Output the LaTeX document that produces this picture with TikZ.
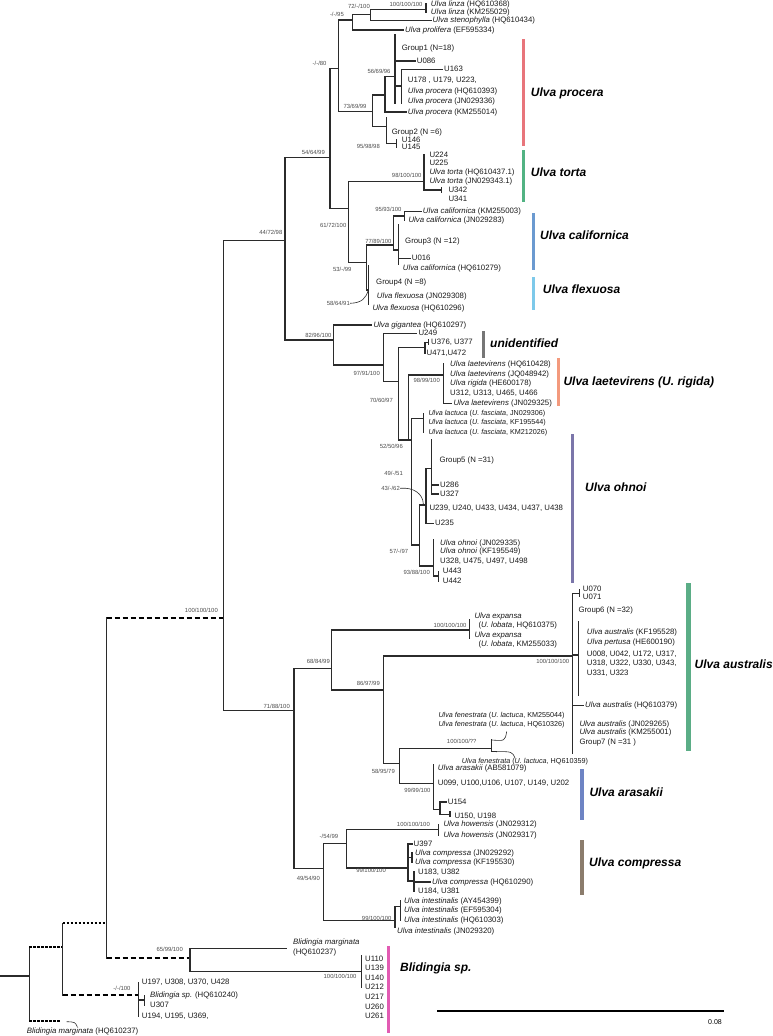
\documentclass[tikz,border=0pt]{standalone}
\usepackage{fontspec}
\setmainfont{Liberation Sans}
\usetikzlibrary{calc}
\newcommand{\ital}[1]{\textit{#1}}
\definecolor{treeline}{HTML}{2B2B2B}
\definecolor{cproc}{HTML}{E8757B}
\definecolor{ctorta}{HTML}{52B383}
\definecolor{ccalif}{HTML}{6B9AD0}
\definecolor{cflexu}{HTML}{7DC9EA}
\definecolor{cunide}{HTML}{767676}
\definecolor{claete}{HTML}{F39A7D}
\definecolor{cohnoi}{HTML}{7B76AA}
\definecolor{caustr}{HTML}{5BAD86}
\definecolor{carasa}{HTML}{6E84C4}
\definecolor{ccompr}{HTML}{8B7C6C}
\definecolor{cblidi}{HTML}{E25BB3}
\tikzset{
  branch/.style={line width=1.1pt, color=treeline, line cap=rect},
  dashbranch/.style={line width=2pt, color=black, dash pattern=on 5.5pt off 2.5pt},
  dotbranch/.style={line width=2pt, color=black, dash pattern=on 2.5pt off 1.5pt},
  pointer/.style={line width=0.6pt, color=treeline},
  leaf/.style={anchor=west, inner xsep=1.5pt, inner ysep=0pt, text height=5.8pt, text depth=1.6pt,
    text=black!90, font=\fontsize{7.8}{8}\selectfont},
  longleaf/.style={leaf, font=\fontsize{7.2}{8}\selectfont},
  bootval/.style={anchor=east, inner sep=0pt, text height=4.3pt, text depth=0pt,
    text=black!70, font=\fontsize{5.9}{6}\selectfont},
  cladename/.style={anchor=west, inner sep=0pt, font=\fontsize{12}{13}\selectfont\bfseries\itshape}
}

\begin{document}
\begin{tikzpicture}[x=1pt,y=-1pt]
%%%%% START %%%%%
\useasboundingbox (0,0) rectangle (772,1036);

% outgroup and basal part
\coordinate (root) at (0,976);
\coordinate (n0) at (29.3,976);
\coordinate (n1) at (62.7,946.7);
\coordinate (bmlo) at (60,1021);
\coordinate (n2) at (106.7,923.3);
\coordinate (bsp) at (138.3,995);
\coordinate (ulva) at (223.3,618);
\coordinate (blid) at (190,958.3);
\draw[branch] (root) -- (n0);
\draw[branch] (n0 |- n1) -- (n0 |- bmlo);
\draw[dotbranch] (n0 |- n1) -- (n1);
\draw[dotbranch] (n0 |- bmlo) -- (bmlo);
\draw[branch] (n1 |- n2) -- (n1 |- bsp);
\draw[dotbranch] (n1 |- n2) -- (n2);
\draw[dashbranch] (n1 |- bsp) -- (bsp);
\draw[branch] (n2 |- ulva) -- (n2 |- blid);
\draw[dashbranch] (n2 |- ulva) -- (ulva);
\draw[dashbranch] (n2 |- blid) -- (blid);
\node[bootval] (b100a) at (218,610) {100/100/100};

\node[leaf] (bmlow) at (25.2,1031.7) {\ital{Blidingia marginata} (HQ610237)};
\coordinate (bmp1) at (66.7,1021.7);
\coordinate (bmp2) at (77.3,1026.7);
\draw[pointer] (bmp1) .. controls (75,1022) .. (bmp2);

% Blidingia
\coordinate (bmarge) at (286.7,948.3);
\coordinate (bcl) at (361.7,971.7);
\node[leaf] (bmarg) at (291.5,942.7) {\ital{Blidingia marginata}};
\node[leaf] (bmargid) at (291.5,952.7) {(HQ610237)};
\draw[branch] (blid |- bmarge) -- (blid |- bcl);
\draw[branch] (blid |- bmarge) -- (bmarge);
\draw[branch] (blid |- bcl) -- (bcl);
\node[bootval] (b65) at (183,949) {65/99/100};

\node[leaf] (u110) at (363.5,959.3) {U110};
\node[leaf] (u139) at (363.5,968.7) {U139};
\node[leaf] (u140) at (363.5,978) {U140};
\node[leaf] (u212) at (363.5,987.7) {U212};
\node[leaf] (u217) at (363.5,997.3) {U217};
\node[leaf] (u260) at (363.5,1007) {U260};
\node[leaf] (u261) at (363.5,1016.7) {U261};
\draw[branch] (bcl |- u110.north) -- (bcl |- u212);
\node[bootval] (bbcl) at (356.7,976.7) {100/100/100};

\node[leaf] (bs1) at (140.2,982.7) {U197, U308, U370, U428};
\node[leaf] (bs2) at (148.5,995.3) {\ital{Blidingia sp.} (HQ610240)};
\node[leaf] (bs3) at (148.5,1005.3) {U307};
\node[leaf] (bs4) at (140.2,1016.7) {U194, U195, U369,};
\coordinate (bsp2) at (144.3,1000);
\draw[branch] (bsp |- bs1) -- (bsp |- bs4);
\draw[branch] (bsp |- bsp2) -- (bsp2);
\draw[branch] (bsp2 |- bs2) -- (bsp2 |- bs3);
\node[bootval] (bbsp) at (130.7,988.7) {-/-/100};

% Ulva crown
\coordinate (c44) at (285,240.7);
\coordinate (c71) at (294,710.7);
\draw[branch] (ulva |- c44) -- (ulva |- c71);
\draw[branch] (ulva |- c44) -- (c44);
\draw[branch] (ulva |- c71) -- (c71);

\coordinate (c54) at (330,157.3);
\coordinate (c82) at (333.3,340);
\draw[branch] (c44 |- c54) -- (c44 |- c82);
\draw[branch] (c44 |- c54) -- (c54);
\draw[branch] (c44 |- c82) -- (c82);
\node[bootval] (b44) at (282.5,232.5) {44/72/98};

\coordinate (c80) at (338.3,68.3);
\coordinate (c61) at (348.3,208.3);
\draw[branch] (c54 |- c80) -- (c54 |- c61);
\draw[branch] (c54 |- c80) -- (c80);
\draw[branch] (c54 |- c61) -- (c61);
\node[bootval] (b54) at (325,152.7) {54/64/99};

\coordinate (c95) at (352.3,20);
\coordinate (c73) at (372.7,111.7);
\draw[branch] (c80 |- c95) -- (c80 |- c73);
\draw[branch] (c80 |- c95) -- (c95);
\draw[branch] (c80 |- c73) -- (c73);
\node[bootval] (b80) at (326.7,63.3) {-/-/80};

% linza / stenophylla / prolifera
\coordinate (c72) at (370.7,14.7);
\node[leaf] (prolif) at (403.5,30) {\ital{Ulva prolifera} (EF595334)};
\draw[branch] (c95 |- c72) -- (c95 |- prolif);
\draw[branch] (c95 |- c72) -- (c72);
\draw[branch] (c95 |- prolif) -- (prolif.west);
\node[bootval] (b95) at (344,14) {-/-/95};

\coordinate (clinza) at (426,9.3);
\node[leaf] (steno) at (431,20.7) {\ital{Ulva stenophylla} (HQ610434)};
\draw[branch] (c72 |- clinza) -- (c72 |- steno);
\draw[branch] (c72 |- clinza) -- (clinza);
\draw[branch] (c72 |- steno) -- (steno.west);
\node[bootval] (b72) at (370,6.7) {72/-/100};

\node[leaf] (linza1) at (429.2,4) {\ital{Ulva linza} (HQ610368)};
\node[leaf] (linza2) at (429.2,12.3) {\ital{Ulva linza} (KM255029)};
\draw[branch] (clinza |- linza1) -- (clinza |- linza2);
\node[bootval] (blinza) at (422.7,4) {100/100/100};

% procera
\coordinate (cpr) at (385,95);
\coordinate (c98) at (386.7,126.7);
\draw[branch] (c73 |- cpr) -- (c73 |- c98);
\draw[branch] (c73 |- cpr) -- (cpr);
\draw[branch] (c73 |- c98) -- (c98);
\node[bootval] (b73) at (366.7,106.7) {73/69/99};

\coordinate (c56) at (395,76.7);
\node[leaf] (proc3) at (406.2,112) {\ital{Ulva procera} (KM255014)};
\draw[branch] (cpr |- c56) -- (cpr |- proc3);
\draw[branch] (cpr |- c56) -- (c56);
\draw[branch] (cpr |- proc3) -- (proc3.west);

\coordinate (c56t) at (395,35);
\coordinate (c56b) at (395,103.3);
\coordinate (cw) at (401.7,86);
\node[leaf] (grp1) at (400.2,48.3) {Group1 (N=18)};
\node[leaf] (u086) at (415.2,61) {U086};
\draw[branch] (c56t) -- (c56b);
\draw[branch] (c56 |- u086) -- (u086.west);
\draw[branch] (c56 |- cw) -- (cw);
\node[bootval] (b56) at (390.7,71.7) {56/69/96};

\node[leaf] (u163) at (442.5,69.3) {U163};
\node[leaf] (uproc) at (406.2,80.7) {U178 , U179, U223,};
\node[leaf] (proc1) at (406.2,91.7) {\ital{Ulva procera} (HQ610393)};
\node[leaf] (proc2) at (406.2,101.7) {\ital{Ulva procera} (JN029336)};
\draw[branch] (cw |- u163) -- (cw |- c56b);
\draw[branch] (cw |- u163) -- (u163.west);

\coordinate (c98t) at (386.7,118);
\coordinate (c146) at (396.7,143.5);
\node[leaf] (grp2) at (390.2,132) {Group2 (N =6)};
\draw[branch] (c98t) -- (c98 |- c146);
\draw[branch] (c98 |- c146) -- (c146);
\node[bootval] (b98) at (380,146) {95/98/98};
\node[leaf] (u146) at (400.2,140) {U146};
\node[leaf] (u145) at (400.2,147.5) {U145};
\draw[branch] (c146 |- u146) -- (c146 |- u145);

% torta
\coordinate (ctor) at (424,181.7);
\coordinate (c53) at (366.7,262.7);
\draw[branch] (c61 |- ctor) -- (c61 |- c53);
\draw[branch] (c61 |- ctor) -- (ctor);
\draw[branch] (c61 |- c53) -- (c53);
\node[bootval] (b61) at (346.5,225) {61/72/100};

\node[leaf] (u224) at (427.8,155) {U224};
\node[leaf] (u225) at (427.8,163.3) {U225};
\node[leaf] (torta1) at (427.8,172.3) {\ital{Ulva torta} (HQ610437.1)};
\node[leaf] (torta2) at (427.8,181.7) {\ital{Ulva torta} (JN029343.1)};
\coordinate (c342) at (441.7,190);
\draw[branch] (ctor |- u224) -- (ctor |- c342);
\draw[branch] (ctor |- c342) -- (c342);
\draw[branch] ($(c342)+(0,-2.5)$) -- ($(c342)+(0,2.5)$);
\node[leaf] (u342) at (446.8,190.7) {U342};
\node[leaf] (u341) at (446.8,199.3) {U341};
\node[bootval] (btor) at (421.7,175) {98/100/100};

% californica / flexuosa
\coordinate (c77) at (393.3,245);
\coordinate (cflex) at (368.3,290);
\draw[branch] (c53 |- c77) -- (c53 |- cflex);
\draw[branch] (c53 |- c77) -- (c77);
\draw[branch] (c53 |- cflex) -- (cflex);
\node[bootval] (b53) at (351.7,269.3) {53/-/99};

\coordinate (c93) at (404.3,216);
\coordinate (cg3) at (398.3,250);
\draw[branch] (c77 |- c93) -- (c77 |- cg3);
\draw[branch] (c77 |- c93) -- (c93);
\draw[branch] (c77 |- cg3) -- (cg3);
\node[bootval] (b77) at (391.7,241.7) {77/89/100};

\node[leaf] (cal1) at (421.2,211.7) {\ital{Ulva californica} (KM255003)};
\node[leaf] (cal2) at (406.8,220) {\ital{Ulva californica} (JN029283)};
\draw[branch] (c93 |- cal1) -- (c93 |- cal2);
\draw[branch] (c93 |- cal1) -- (cal1.west);
\node[bootval] (b93) at (401.7,209.3) {95/93/100};

\coordinate (cg3t) at (398.3,225);
\node[leaf] (grp3) at (403.5,241.7) {Group3 (N =12)};
\node[leaf] (u016) at (410.2,258.3) {U016};
\node[leaf] (cal3) at (401.2,268.3) {\ital{Ulva californica} (HQ610279)};
\draw[branch] (cg3t) -- (cg3 |- cal3.north);
\draw[branch] (cg3 |- u016) -- (u016.west);

\coordinate (cflext) at (368.3,266);
\node[leaf] (grp4) at (374.5,282.7) {Group4 (N =8)};
\node[leaf] (flex1) at (375.2,296) {\ital{Ulva flexuosa} (JN029308)};
\node[leaf] (flex2) at (370.8,308.3) {\ital{Ulva flexuosa} (HQ610296)};
\draw[branch] (cflext) -- (cflex |- flex2.north);
\node[bootval] (b58) at (350,303.3) {58/64/91};
\draw[pointer] (b58.east) .. controls (362,303) and (366,298) .. (cflex);

% gigantea, unidentified, laetevirens, ohnoi
\coordinate (c97) at (383.3,365);
\node[leaf] (gig) at (371.8,325) {\ital{Ulva gigantea} (HQ610297)};
\draw[branch] (c82 |- gig) -- (c82 |- c97);
\draw[branch] (c82 |- gig) -- (gig.west);
\draw[branch] (c82 |- c97) -- (c97);
\node[bootval] (b82) at (331.7,335) {82/96/100};

\coordinate (c70) at (398.3,381.7);
\node[leaf] (u249) at (416.8,333.3) {U249};
\draw[branch] (c97 |- u249) -- (c97 |- c70);
\draw[branch] (c97 |- u249) -- (u249.west);
\draw[branch] (c97 |- c70) -- (c70);
\node[bootval] (b97) at (380,373.3) {97/91/100};

\coordinate (cunid) at (425,347.3);
\coordinate (c52) at (408.3,440);
\draw[branch] (c70 |- cunid) -- (c70 |- c52);
\draw[branch] (c70 |- cunid) -- (cunid);
\draw[branch] (c70 |- c52) -- (c52);
\node[bootval] (b70) at (393,400) {70/60/97};

\coordinate (c376) at (428.5,342.3);
\node[leaf] (u376) at (429.5,342.3) {U376, U377};
\node[leaf] (u471) at (425,353.7) {U471,U472};
\draw[branch] (cunid |- c376) -- (cunid |- u471);
\draw[branch] (cunid |- c376) -- (c376);
\draw[branch] ($(c376)+(0,-2.5)$) -- ($(c376)+(0,2.5)$);

\coordinate (claet) at (443.3,375);
\coordinate (c49) at (411.7,440);
\draw[branch] (c52 |- claet) -- (c52 |- c49);
\draw[branch] (c52 |- claet) -- (claet);
\draw[branch] (c52 |- c49) -- (c49);
\node[bootval] (b52) at (403,446.7) {52/50/96};

\node[leaf] (laet1) at (448.5,364) {\ital{Ulva laetevirens} (HQ610428)};
\node[leaf] (laet2) at (448.5,374) {\ital{Ulva laetevirens} (JQ048942)};
\node[leaf] (rig) at (448.5,383.7) {\ital{Ulva rigida} (HE600178)};
\node[leaf] (u312) at (448.5,393.3) {U312, U313, U465, U466};
\node[leaf] (laet3) at (451.8,403.3) {\ital{Ulva laetevirens} (JN029325)};
\draw[branch] (claet |- laet1) -- (claet |- laet3);
\draw[branch] (claet |- laet3) -- (laet3.west);
\node[bootval] (b98l) at (440,380.7) {98/99/100};

\coordinate (clact) at (423.3,418.3);
\coordinate (c57) at (419.3,545);
\draw[branch] (c49 |- clact) -- (c49 |- c57);
\draw[branch] (c49 |- clact) -- (clact);
\draw[branch] (c49 |- c57) -- (c57);
\node[bootval] (b49) at (403,473.3) {49/-/51};

\node[longleaf] (lact1) at (426.8,413.3) {\ital{Ulva lactuca} (\ital{U. fasciata}, JN029306)};
\node[longleaf] (lact2) at (426.8,422.7) {\ital{Ulva lactuca} (\ital{U. fasciata}, KF195544)};
\node[longleaf] (lact3) at (426.8,432.3) {\ital{Ulva lactuca} (\ital{U. fasciata}, KM212026)};
\draw[branch] (clact |- lact1) -- (clact |- lact3);

\coordinate (c43) at (426,505);
\coordinate (cohn) at (433.3,566);
\draw[branch] (c57 |- c43) -- (c57 |- cohn);
\draw[branch] (c57 |- c43) -- (c43);
\draw[branch] (c57 |- cohn) -- (cohn);
\node[bootval] (b57) at (408.3,551.7) {57/-/97};

\coordinate (cg5) at (431.7,468.3);
\node[leaf] (u239) at (427.8,508.3) {U239, U240, U433, U434, U437, U438};
\node[leaf] (u235) at (433.5,523.3) {U235};
\draw[branch] (c43 |- cg5) -- (c43 |- u235);
\draw[branch] (c43 |- cg5) -- (cg5);
\draw[branch] (c43 |- u235) -- (u235.west);
\node[bootval] (b43) at (400,488.3) {43/-/62};
\coordinate (b43p) at (423.3,504);
\draw[pointer] (b43.east) .. controls (414,487) and (423,494) .. (b43p);

\coordinate (cg5t) at (431.7,440);
\node[leaf] (grp5) at (437.8,460) {Group5 (N =31)};
\node[leaf] (u286) at (438.5,485) {U286};
\node[leaf] (u327) at (438.5,494) {U327};
\draw[branch] (cg5t) -- (cg5 |- u327);
\draw[branch] (cg5 |- u286) -- (u286.west);
\draw[branch] (cg5 |- u327) -- (u327.west);

\coordinate (cohnt) at (433.3,540);
\coordinate (c443) at (438.3,576);
\node[leaf] (ohn1) at (438.5,543.3) {\ital{Ulva ohnoi} (JN029335)};
\node[leaf] (ohn2) at (438.5,551.7) {\ital{Ulva ohnoi} (KF195549)};
\node[leaf] (u328) at (438.5,561) {U328, U475, U497, U498};
\draw[branch] (cohnt) -- (cohn |- c443);
\draw[branch] (cohn |- c443) -- (c443);
\node[leaf] (u443) at (441.2,571.7) {U443};
\node[leaf] (u442) at (441.2,581.7) {U442};
\draw[branch] (c443 |- u443) -- (c443 |- u442);
\node[bootval] (b93o) at (430,572.7) {93/88/100};

% expansa, australis, fenestrata, arasakii
\coordinate (c68) at (331.7,668.3);
\coordinate (c49c) at (323.3,868.3);
\draw[branch] (c71 |- c68) -- (c71 |- c49c);
\draw[branch] (c71 |- c68) -- (c68);
\draw[branch] (c71 |- c49c) -- (c49c);
\node[bootval] (b71) at (290,706) {71/88/100};

\coordinate (cexp) at (469.3,630);
\coordinate (c86) at (383.3,690);
\draw[branch] (c68 |- cexp) -- (c68 |- c86);
\draw[branch] (c68 |- cexp) -- (cexp);
\draw[branch] (c68 |- c86) -- (c86);
\node[bootval] (b68) at (330,661) {68/84/99};

\node[leaf] (exp1) at (472.8,616) {\ital{Ulva expansa}};
\node[leaf] (exp1b) at (476.8,625.3) {(\ital{U. lobata}, HQ610375)};
\node[leaf] (exp2) at (472.8,635) {\ital{Ulva expansa}};
\node[leaf] (exp2b) at (476.8,644.3) {(\ital{U. lobata}, KM255033)};
\draw[branch] (cexp |- exp1.south) -- (cexp |- exp2.south);
\node[bootval] (bexp) at (466.7,625.3) {100/100/100};

\coordinate (caus) at (572.7,656);
\coordinate (c58) at (399.3,763.3);
\draw[branch] (c86 |- caus) -- (c86 |- c58);
\draw[branch] (c86 |- caus) -- (caus);
\draw[branch] (c86 |- c58) -- (c58);
\node[bootval] (b86) at (380,683.3) {86/97/99};

\coordinate (c070) at (579.3,593.3);
\coordinate (cg6) at (578.3,655);
\coordinate (cg6t) at (578.3,621.7);
\coordinate (cg6b) at (578.3,695);
\coordinate (causb) at (572.7,753.3);
\node[leaf] (u070) at (581.2,589) {U070};
\node[leaf] (u071) at (581.2,597.3) {U071};
\node[leaf] (grp6) at (576.8,610) {Group6 (N =32)};
\node[leaf] (aus1) at (585.2,632.3) {\ital{Ulva australis} (KF195528)};
\node[leaf] (pert) at (585.2,642) {\ital{Ulva pertusa} (HE600190)};
\node[leaf] (u008) at (585.2,654.3) {U008, U042, U172, U317,};
\node[leaf] (u318) at (585.2,663.7) {U318, U322, U330, U343,};
\node[leaf] (u331) at (585.2,673) {U331, U323};
\node[leaf] (aus2) at (583.5,705.7) {\ital{Ulva australis} (HQ610379)};
\node[leaf] (aus3) at (577.8,724) {\ital{Ulva australis} (JN029265)};
\node[leaf] (aus4) at (577.8,732.7) {\ital{Ulva australis} (KM255001)};
\node[leaf] (grp7) at (577.8,742.7) {Group7 (N =31 )};
\draw[branch] (caus |- c070) -- (causb);
\draw[branch] (caus |- c070) -- (c070);
\draw[branch] ($(c070)+(0,-3.3)$) -- ($(c070)+(0,3.3)$);
\draw[branch] (caus |- cg6) -- (cg6);
\draw[branch] (cg6t) -- (cg6b);
\draw[branch] (caus |- aus2) -- (aus2.west);
\node[bootval] (baus) at (569.3,661.7) {100/100/100};

\coordinate (cfen) at (491.7,748.3);
\coordinate (cara) at (433.3,783.3);
\draw[branch] (c58 |- cfen) -- (c58 |- cara);
\draw[branch] (c58 |- cfen) -- (cfen);
\draw[branch] (c58 |- cara) -- (cara);
\node[bootval] (b58f) at (395,771.7) {58/95/79};

\coordinate (cfent) at (491.7,740);
\coordinate (cfenb) at (491.7,751.7);
\coordinate (cfens) at (496,751.7);
\coordinate (fenp1) at (506.7,731.5);
\coordinate (fenp2) at (515,758);
\draw[branch] (cfent) -- (cfenb);
\draw[branch] (cfenb) -- (cfens);
\node[longleaf] (fen1) at (436.8,715.3) {\ital{Ulva fenestrata} (\ital{U. lactuca}, KM255044)};
\node[longleaf] (fen2) at (436.8,724) {\ital{Ulva fenestrata} (\ital{U. lactuca}, HQ610326)};
\node[longleaf] (fen3) at (460.2,761) {\ital{Ulva fenestrata} (\ital{U. lactuca}, HQ610359)};
\draw[pointer] (cfent) .. controls (505,741) .. (fenp1);
\draw[pointer] (cfens) .. controls (512,751.5) .. (fenp2);
\node[bootval] (bfen) at (476.7,741) {100/100/??};

\coordinate (c154) at (440,809.3);
\node[leaf] (ara1) at (436.2,768.3) {\ital{Ulva arasakii} (AB581079)};
\node[leaf] (u099) at (436.2,783.3) {U099, U100,U106, U107, U149, U202};
\draw[branch] (cara |- ara1.north) -- (cara |- c154);
\draw[branch] (cara |- c154) -- (c154);
\node[bootval] (bara) at (430.7,790) {99/99/100};

\coordinate (c150) at (450,814.3);
\node[leaf] (u154) at (446.2,802) {U154};
\node[leaf] (u150) at (452.8,816) {U150, U198};
\draw[branch] (c154 |- u154) -- (c154 |- c150);
\draw[branch] (c154 |- u154) -- (u154.west);
\draw[branch] (c154 |- c150) -- (c150);
\draw[branch] ($(c150)+(0,-2.5)$) -- ($(c150)+(0,2.5)$);

% howensis, compressa, intestinalis
\coordinate (c54c) at (346.7,843.3);
\coordinate (cint) at (395,920.7);
\draw[branch] (c49c |- c54c) -- (c49c |- cint);
\draw[branch] (c49c |- c54c) -- (c54c);
\draw[branch] (c49c |- cint) -- (cint);
\node[bootval] (b49c) at (320,878.3) {49/54/90};

\coordinate (chow) at (438.3,829.3);
\coordinate (ccomp) at (408,868);
\draw[branch] (c54c |- chow) -- (c54c |- ccomp);
\draw[branch] (c54c |- chow) -- (chow);
\draw[branch] (c54c |- ccomp) -- (ccomp);
\node[bootval] (b54c) at (338.3,836.7) {-/54/99};

\node[leaf] (how1) at (441.8,824.3) {\ital{Ulva howensis} (JN029312)};
\node[leaf] (how2) at (441.8,835) {\ital{Ulva howensis} (JN029317)};
\draw[branch] (chow |- how1) -- (chow |- how2);
\node[bootval] (bhow) at (430,824) {100/100/100};

\coordinate (ccmp1) at (412,857.5);
\coordinate (ccmp2) at (414,881);
\node[leaf] (u397) at (412,844) {U397};
\node[leaf] (comp1) at (413.5,853) {\ital{Ulva compressa} (JN029292)};
\node[leaf] (comp2) at (413.5,862) {\ital{Ulva compressa} (KF195530)};
\node[leaf] (u183) at (416.5,872) {U183, U382};
\node[leaf] (comp3) at (430.5,882) {\ital{Ulva compressa} (HQ610290)};
\node[leaf] (u184) at (416.5,891) {U184, U381};
\draw[branch] (ccomp |- u397) -- (ccomp |- ccmp2);
\draw[branch] (ccomp |- u397) -- (u397.west);
\draw[branch] (ccomp |- ccmp1) -- (ccmp1);
\draw[branch] (ccmp1 |- comp1) -- (ccmp1 |- comp2);
\draw[branch] (ccomp |- ccmp2) -- (ccmp2);
\draw[branch] (ccmp2 |- u183) -- (ccmp2 |- u184);
\draw[branch] (ccmp2 |- comp3) -- (comp3.west);
\node[bootval] (bcomp) at (386,870) {99/100/100};

\coordinate (cint2) at (400.5,906.7);
\node[leaf] (int1) at (402.5,901) {\ital{Ulva intestinalis} (AY454399)};
\node[leaf] (int2) at (402.5,910) {\ital{Ulva intestinalis} (EF595304)};
\node[leaf] (int3) at (402.5,920) {\ital{Ulva intestinalis} (HQ610303)};
\node[leaf] (int4) at (395.5,931) {\ital{Ulva intestinalis} (JN029320)};
\draw[branch] (cint |- cint2) -- (cint |- int4.north);
\draw[branch] (cint |- cint2) -- (cint2);
\draw[branch] (cint2 |- int1) -- (cint2 |- int3);
\node[bootval] (bint) at (391.7,918.7) {99/100/100};

% clade bars and names
\fill[cproc] (521.7,39.3) rectangle (525,146);
\fill[ctorta] (521.7,150) rectangle (525,201.7);
\fill[ccalif] (531.7,212.7) rectangle (535,270);
\fill[cflexu] (531.7,276.7) rectangle (535,310);
\fill[cunide] (481.7,331) rectangle (485,358.3);
\fill[claete] (556.7,358.3) rectangle (560,406);
\fill[cohnoi] (570.7,434.3) rectangle (574,583.3);
\fill[caustr] (686,582.7) rectangle (690.5,750.7);
\fill[carasa] (580,769.3) rectangle (584,820);
\fill[ccompr] (580,840) rectangle (584,895);
\fill[cblidi] (386.7,946) rectangle (390,1033);

\node[cladename] (nproc) at (530.7,93.3) {Ulva procera};
\node[cladename] (ntorta) at (530.7,172) {Ulva torta};
\node[cladename] (ncalif) at (540,235) {Ulva californica};
\node[cladename] (nflexu) at (542.7,289.3) {Ulva flexuosa};
\node[cladename] (nunide) at (490,343.3) {unidentified};
\node[cladename] (nlaete) at (563.3,382.3) {Ulva laetevirens (U. rigida)};
\node[cladename] (nohnoi) at (585,487.7) {Ulva ohnoi};
\node[cladename] (naustr) at (694.5,664) {Ulva australis};
\node[cladename] (narasa) at (589.3,792.3) {Ulva arasakii};
\node[cladename] (ncompr) at (589,863) {Ulva compressa};
\node[cladename] (nblidi) at (400,968) {Blidingia sp.};

% scale
\coordinate (sc1) at (437.3,1011);
\coordinate (sc2) at (724,1011);
\draw[line width=1.2pt] (sc1) -- (sc2);
\node[anchor=west, inner sep=0pt, font=\fontsize{7}{8}\selectfont] (sclab) at (708,1021.7) {0.08};
%%%%% END %%%%%
\end{tikzpicture}
\end{document}
